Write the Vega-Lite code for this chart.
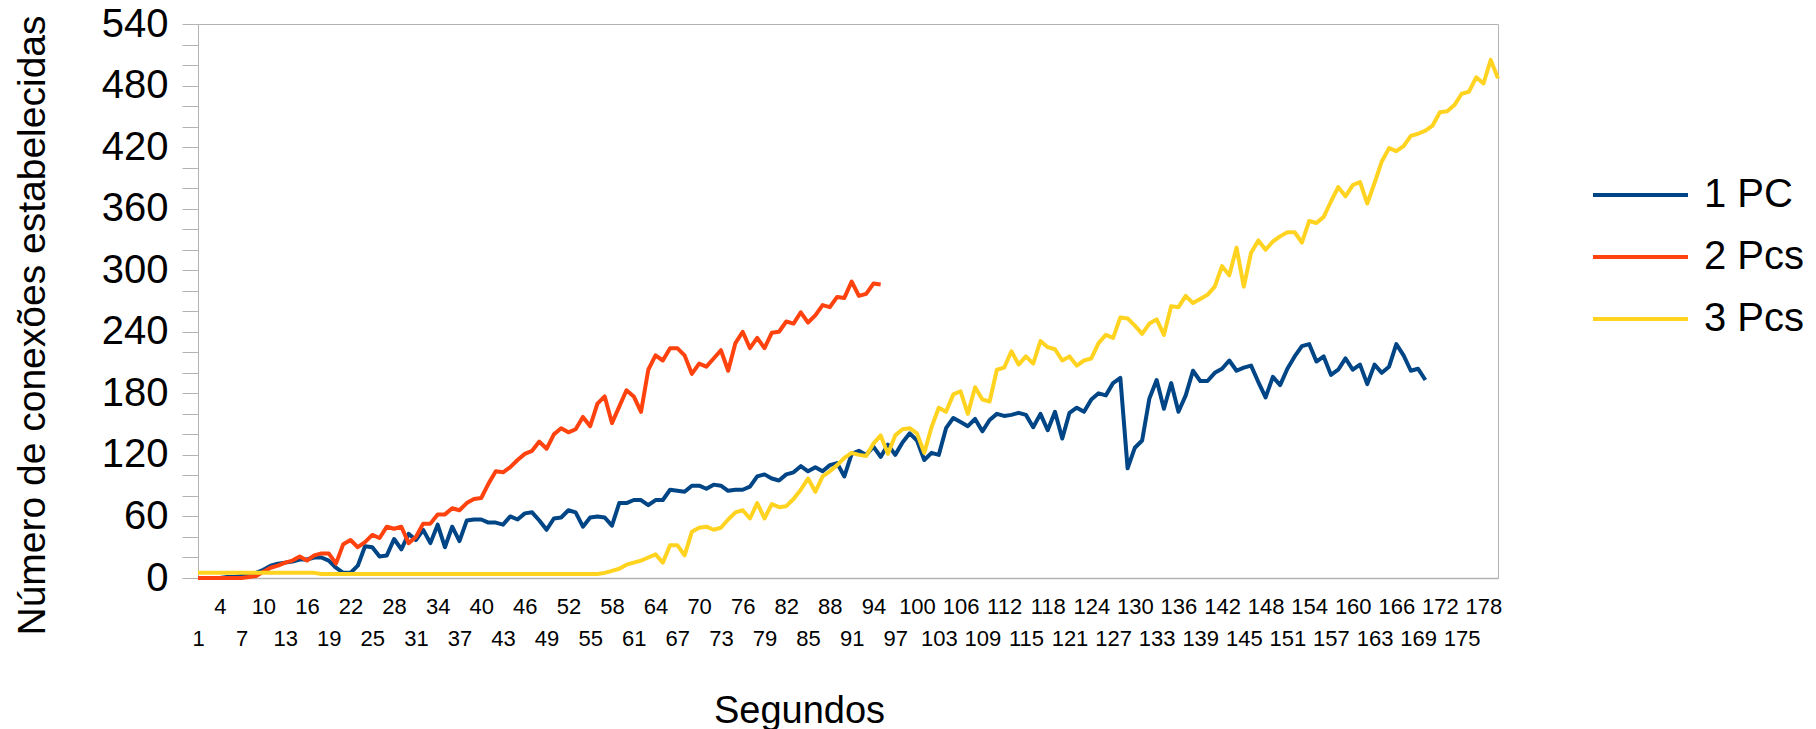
{
"$schema": "https://vega.github.io/schema/vega-lite/v6.json",
"width": 1300,
"height": 554,
"autosize": {"type": "none"},
"padding": {"left": 198, "top": 24, "right": 318, "bottom": 151},
"background": "white",
"config": {"view": {"stroke": "#b3b3b3", "strokeWidth": 1}},
"data": {"values": [
{"s":"1 PC","t":1,"v":0},{"s":"1 PC","t":2,"v":0},{"s":"1 PC","t":3,"v":0},{"s":"1 PC","t":4,"v":0},{"s":"1 PC","t":5,"v":1},{"s":"1 PC","t":6,"v":1},{"s":"1 PC","t":7,"v":2},{"s":"1 PC","t":8,"v":3},{"s":"1 PC","t":9,"v":5},{"s":"1 PC","t":10,"v":8},
{"s":"1 PC","t":11,"v":12},{"s":"1 PC","t":12,"v":14},{"s":"1 PC","t":13,"v":15},{"s":"1 PC","t":14,"v":16},{"s":"1 PC","t":15,"v":18},{"s":"1 PC","t":16,"v":18},{"s":"1 PC","t":17,"v":20},{"s":"1 PC","t":18,"v":20},{"s":"1 PC","t":19,"v":17},{"s":"1 PC","t":20,"v":10},
{"s":"1 PC","t":21,"v":5},{"s":"1 PC","t":22,"v":5},{"s":"1 PC","t":23,"v":12},{"s":"1 PC","t":24,"v":31},{"s":"1 PC","t":25,"v":30},{"s":"1 PC","t":26,"v":21},{"s":"1 PC","t":27,"v":22},{"s":"1 PC","t":28,"v":38},{"s":"1 PC","t":29,"v":28},{"s":"1 PC","t":30,"v":43},
{"s":"1 PC","t":31,"v":37},{"s":"1 PC","t":32,"v":47},{"s":"1 PC","t":33,"v":34},{"s":"1 PC","t":34,"v":52},{"s":"1 PC","t":35,"v":30},{"s":"1 PC","t":36,"v":50},{"s":"1 PC","t":37,"v":36},{"s":"1 PC","t":38,"v":56},{"s":"1 PC","t":39,"v":57},{"s":"1 PC","t":40,"v":57},
{"s":"1 PC","t":41,"v":54},{"s":"1 PC","t":42,"v":54},{"s":"1 PC","t":43,"v":52},{"s":"1 PC","t":44,"v":60},{"s":"1 PC","t":45,"v":57},{"s":"1 PC","t":46,"v":63},{"s":"1 PC","t":47,"v":64},{"s":"1 PC","t":48,"v":56},{"s":"1 PC","t":49,"v":47},{"s":"1 PC","t":50,"v":58},
{"s":"1 PC","t":51,"v":59},{"s":"1 PC","t":52,"v":66},{"s":"1 PC","t":53,"v":64},{"s":"1 PC","t":54,"v":50},{"s":"1 PC","t":55,"v":59},{"s":"1 PC","t":56,"v":60},{"s":"1 PC","t":57,"v":59},{"s":"1 PC","t":58,"v":51},{"s":"1 PC","t":59,"v":73},{"s":"1 PC","t":60,"v":73},
{"s":"1 PC","t":61,"v":76},{"s":"1 PC","t":62,"v":76},{"s":"1 PC","t":63,"v":71},{"s":"1 PC","t":64,"v":76},{"s":"1 PC","t":65,"v":76},{"s":"1 PC","t":66,"v":86},{"s":"1 PC","t":67,"v":85},{"s":"1 PC","t":68,"v":84},{"s":"1 PC","t":69,"v":90},{"s":"1 PC","t":70,"v":90},
{"s":"1 PC","t":71,"v":87},{"s":"1 PC","t":72,"v":91},{"s":"1 PC","t":73,"v":90},{"s":"1 PC","t":74,"v":85},{"s":"1 PC","t":75,"v":86},{"s":"1 PC","t":76,"v":86},{"s":"1 PC","t":77,"v":89},{"s":"1 PC","t":78,"v":99},{"s":"1 PC","t":79,"v":101},{"s":"1 PC","t":80,"v":97},
{"s":"1 PC","t":81,"v":95},{"s":"1 PC","t":82,"v":101},{"s":"1 PC","t":83,"v":103},{"s":"1 PC","t":84,"v":109},{"s":"1 PC","t":85,"v":104},{"s":"1 PC","t":86,"v":108},{"s":"1 PC","t":87,"v":104},{"s":"1 PC","t":88,"v":110},{"s":"1 PC","t":89,"v":112},{"s":"1 PC","t":90,"v":99},
{"s":"1 PC","t":91,"v":121},{"s":"1 PC","t":92,"v":124},{"s":"1 PC","t":93,"v":120},{"s":"1 PC","t":94,"v":128},{"s":"1 PC","t":95,"v":118},{"s":"1 PC","t":96,"v":130},{"s":"1 PC","t":97,"v":120},{"s":"1 PC","t":98,"v":132},{"s":"1 PC","t":99,"v":141},{"s":"1 PC","t":100,"v":134},
{"s":"1 PC","t":101,"v":115},{"s":"1 PC","t":102,"v":122},{"s":"1 PC","t":103,"v":120},{"s":"1 PC","t":104,"v":146},{"s":"1 PC","t":105,"v":156},{"s":"1 PC","t":106,"v":152},{"s":"1 PC","t":107,"v":148},{"s":"1 PC","t":108,"v":155},{"s":"1 PC","t":109,"v":143},{"s":"1 PC","t":110,"v":154},
{"s":"1 PC","t":111,"v":160},{"s":"1 PC","t":112,"v":158},{"s":"1 PC","t":113,"v":159},{"s":"1 PC","t":114,"v":161},{"s":"1 PC","t":115,"v":159},{"s":"1 PC","t":116,"v":147},{"s":"1 PC","t":117,"v":160},{"s":"1 PC","t":118,"v":144},{"s":"1 PC","t":119,"v":162},{"s":"1 PC","t":120,"v":136},
{"s":"1 PC","t":121,"v":161},{"s":"1 PC","t":122,"v":166},{"s":"1 PC","t":123,"v":162},{"s":"1 PC","t":124,"v":174},{"s":"1 PC","t":125,"v":180},{"s":"1 PC","t":126,"v":178},{"s":"1 PC","t":127,"v":190},{"s":"1 PC","t":128,"v":195},{"s":"1 PC","t":129,"v":107},{"s":"1 PC","t":130,"v":127},
{"s":"1 PC","t":131,"v":134},{"s":"1 PC","t":132,"v":175},{"s":"1 PC","t":133,"v":193},{"s":"1 PC","t":134,"v":165},{"s":"1 PC","t":135,"v":190},{"s":"1 PC","t":136,"v":162},{"s":"1 PC","t":137,"v":178},{"s":"1 PC","t":138,"v":202},{"s":"1 PC","t":139,"v":192},{"s":"1 PC","t":140,"v":192},
{"s":"1 PC","t":141,"v":200},{"s":"1 PC","t":142,"v":204},{"s":"1 PC","t":143,"v":212},{"s":"1 PC","t":144,"v":202},{"s":"1 PC","t":145,"v":205},{"s":"1 PC","t":146,"v":207},{"s":"1 PC","t":147,"v":191},{"s":"1 PC","t":148,"v":176},{"s":"1 PC","t":149,"v":196},{"s":"1 PC","t":150,"v":188},
{"s":"1 PC","t":151,"v":204},{"s":"1 PC","t":152,"v":216},{"s":"1 PC","t":153,"v":226},{"s":"1 PC","t":154,"v":228},{"s":"1 PC","t":155,"v":211},{"s":"1 PC","t":156,"v":216},{"s":"1 PC","t":157,"v":198},{"s":"1 PC","t":158,"v":203},{"s":"1 PC","t":159,"v":214},{"s":"1 PC","t":160,"v":203},
{"s":"1 PC","t":161,"v":208},{"s":"1 PC","t":162,"v":189},{"s":"1 PC","t":163,"v":208},{"s":"1 PC","t":164,"v":200},{"s":"1 PC","t":165,"v":206},{"s":"1 PC","t":166,"v":228},{"s":"1 PC","t":167,"v":217},{"s":"1 PC","t":168,"v":202},{"s":"1 PC","t":169,"v":204},{"s":"1 PC","t":170,"v":193},
{"s":"2 Pcs","t":1,"v":0},{"s":"2 Pcs","t":2,"v":0},{"s":"2 Pcs","t":3,"v":0},{"s":"2 Pcs","t":4,"v":0},{"s":"2 Pcs","t":5,"v":0},{"s":"2 Pcs","t":6,"v":0},{"s":"2 Pcs","t":7,"v":0},{"s":"2 Pcs","t":8,"v":1},{"s":"2 Pcs","t":9,"v":2},{"s":"2 Pcs","t":10,"v":6},
{"s":"2 Pcs","t":11,"v":10},{"s":"2 Pcs","t":12,"v":12},{"s":"2 Pcs","t":13,"v":15},{"s":"2 Pcs","t":14,"v":17},{"s":"2 Pcs","t":15,"v":21},{"s":"2 Pcs","t":16,"v":17},{"s":"2 Pcs","t":17,"v":22},{"s":"2 Pcs","t":18,"v":24},{"s":"2 Pcs","t":19,"v":24},{"s":"2 Pcs","t":20,"v":14},
{"s":"2 Pcs","t":21,"v":33},{"s":"2 Pcs","t":22,"v":37},{"s":"2 Pcs","t":23,"v":30},{"s":"2 Pcs","t":24,"v":35},{"s":"2 Pcs","t":25,"v":42},{"s":"2 Pcs","t":26,"v":39},{"s":"2 Pcs","t":27,"v":50},{"s":"2 Pcs","t":28,"v":48},{"s":"2 Pcs","t":29,"v":50},{"s":"2 Pcs","t":30,"v":34},
{"s":"2 Pcs","t":31,"v":40},{"s":"2 Pcs","t":32,"v":53},{"s":"2 Pcs","t":33,"v":53},{"s":"2 Pcs","t":34,"v":62},{"s":"2 Pcs","t":35,"v":62},{"s":"2 Pcs","t":36,"v":68},{"s":"2 Pcs","t":37,"v":66},{"s":"2 Pcs","t":38,"v":73},{"s":"2 Pcs","t":39,"v":77},{"s":"2 Pcs","t":40,"v":78},
{"s":"2 Pcs","t":41,"v":92},{"s":"2 Pcs","t":42,"v":104},{"s":"2 Pcs","t":43,"v":103},{"s":"2 Pcs","t":44,"v":108},{"s":"2 Pcs","t":45,"v":115},{"s":"2 Pcs","t":46,"v":121},{"s":"2 Pcs","t":47,"v":124},{"s":"2 Pcs","t":48,"v":133},{"s":"2 Pcs","t":49,"v":126},{"s":"2 Pcs","t":50,"v":140},
{"s":"2 Pcs","t":51,"v":146},{"s":"2 Pcs","t":52,"v":142},{"s":"2 Pcs","t":53,"v":145},{"s":"2 Pcs","t":54,"v":157},{"s":"2 Pcs","t":55,"v":148},{"s":"2 Pcs","t":56,"v":170},{"s":"2 Pcs","t":57,"v":177},{"s":"2 Pcs","t":58,"v":151},{"s":"2 Pcs","t":59,"v":167},{"s":"2 Pcs","t":60,"v":183},
{"s":"2 Pcs","t":61,"v":177},{"s":"2 Pcs","t":62,"v":162},{"s":"2 Pcs","t":63,"v":203},{"s":"2 Pcs","t":64,"v":217},{"s":"2 Pcs","t":65,"v":212},{"s":"2 Pcs","t":66,"v":224},{"s":"2 Pcs","t":67,"v":224},{"s":"2 Pcs","t":68,"v":217},{"s":"2 Pcs","t":69,"v":199},{"s":"2 Pcs","t":70,"v":209},
{"s":"2 Pcs","t":71,"v":206},{"s":"2 Pcs","t":72,"v":214},{"s":"2 Pcs","t":73,"v":222},{"s":"2 Pcs","t":74,"v":202},{"s":"2 Pcs","t":75,"v":229},{"s":"2 Pcs","t":76,"v":240},{"s":"2 Pcs","t":77,"v":224},{"s":"2 Pcs","t":78,"v":234},{"s":"2 Pcs","t":79,"v":224},{"s":"2 Pcs","t":80,"v":239},
{"s":"2 Pcs","t":81,"v":240},{"s":"2 Pcs","t":82,"v":250},{"s":"2 Pcs","t":83,"v":248},{"s":"2 Pcs","t":84,"v":259},{"s":"2 Pcs","t":85,"v":249},{"s":"2 Pcs","t":86,"v":256},{"s":"2 Pcs","t":87,"v":266},{"s":"2 Pcs","t":88,"v":264},{"s":"2 Pcs","t":89,"v":274},{"s":"2 Pcs","t":90,"v":273},
{"s":"2 Pcs","t":91,"v":289},{"s":"2 Pcs","t":92,"v":275},{"s":"2 Pcs","t":93,"v":277},{"s":"2 Pcs","t":94,"v":287},{"s":"2 Pcs","t":95,"v":286},
{"s":"3 Pcs","t":1,"v":5},{"s":"3 Pcs","t":2,"v":5},{"s":"3 Pcs","t":3,"v":5},{"s":"3 Pcs","t":4,"v":5},{"s":"3 Pcs","t":5,"v":5},{"s":"3 Pcs","t":6,"v":5},{"s":"3 Pcs","t":7,"v":5},{"s":"3 Pcs","t":8,"v":5},{"s":"3 Pcs","t":9,"v":5},{"s":"3 Pcs","t":10,"v":5},
{"s":"3 Pcs","t":11,"v":5},{"s":"3 Pcs","t":12,"v":5},{"s":"3 Pcs","t":13,"v":5},{"s":"3 Pcs","t":14,"v":5},{"s":"3 Pcs","t":15,"v":5},{"s":"3 Pcs","t":16,"v":5},{"s":"3 Pcs","t":17,"v":5},{"s":"3 Pcs","t":18,"v":4},{"s":"3 Pcs","t":19,"v":4},{"s":"3 Pcs","t":20,"v":4},
{"s":"3 Pcs","t":21,"v":4},{"s":"3 Pcs","t":22,"v":4},{"s":"3 Pcs","t":23,"v":4},{"s":"3 Pcs","t":24,"v":4},{"s":"3 Pcs","t":25,"v":4},{"s":"3 Pcs","t":26,"v":4},{"s":"3 Pcs","t":27,"v":4},{"s":"3 Pcs","t":28,"v":4},{"s":"3 Pcs","t":29,"v":4},{"s":"3 Pcs","t":30,"v":4},
{"s":"3 Pcs","t":31,"v":4},{"s":"3 Pcs","t":32,"v":4},{"s":"3 Pcs","t":33,"v":4},{"s":"3 Pcs","t":34,"v":4},{"s":"3 Pcs","t":35,"v":4},{"s":"3 Pcs","t":36,"v":4},{"s":"3 Pcs","t":37,"v":4},{"s":"3 Pcs","t":38,"v":4},{"s":"3 Pcs","t":39,"v":4},{"s":"3 Pcs","t":40,"v":4},
{"s":"3 Pcs","t":41,"v":4},{"s":"3 Pcs","t":42,"v":4},{"s":"3 Pcs","t":43,"v":4},{"s":"3 Pcs","t":44,"v":4},{"s":"3 Pcs","t":45,"v":4},{"s":"3 Pcs","t":46,"v":4},{"s":"3 Pcs","t":47,"v":4},{"s":"3 Pcs","t":48,"v":4},{"s":"3 Pcs","t":49,"v":4},{"s":"3 Pcs","t":50,"v":4},
{"s":"3 Pcs","t":51,"v":4},{"s":"3 Pcs","t":52,"v":4},{"s":"3 Pcs","t":53,"v":4},{"s":"3 Pcs","t":54,"v":4},{"s":"3 Pcs","t":55,"v":4},{"s":"3 Pcs","t":56,"v":4},{"s":"3 Pcs","t":57,"v":5},{"s":"3 Pcs","t":58,"v":7},{"s":"3 Pcs","t":59,"v":9},{"s":"3 Pcs","t":60,"v":13},
{"s":"3 Pcs","t":61,"v":15},{"s":"3 Pcs","t":62,"v":17},{"s":"3 Pcs","t":63,"v":20},{"s":"3 Pcs","t":64,"v":23},{"s":"3 Pcs","t":65,"v":15},{"s":"3 Pcs","t":66,"v":32},{"s":"3 Pcs","t":67,"v":32},{"s":"3 Pcs","t":68,"v":22},{"s":"3 Pcs","t":69,"v":45},{"s":"3 Pcs","t":70,"v":49},
{"s":"3 Pcs","t":71,"v":50},{"s":"3 Pcs","t":72,"v":47},{"s":"3 Pcs","t":73,"v":49},{"s":"3 Pcs","t":74,"v":57},{"s":"3 Pcs","t":75,"v":64},{"s":"3 Pcs","t":76,"v":66},{"s":"3 Pcs","t":77,"v":58},{"s":"3 Pcs","t":78,"v":73},{"s":"3 Pcs","t":79,"v":58},{"s":"3 Pcs","t":80,"v":72},
{"s":"3 Pcs","t":81,"v":69},{"s":"3 Pcs","t":82,"v":70},{"s":"3 Pcs","t":83,"v":77},{"s":"3 Pcs","t":84,"v":86},{"s":"3 Pcs","t":85,"v":97},{"s":"3 Pcs","t":86,"v":84},{"s":"3 Pcs","t":87,"v":99},{"s":"3 Pcs","t":88,"v":104},{"s":"3 Pcs","t":89,"v":110},{"s":"3 Pcs","t":90,"v":117},
{"s":"3 Pcs","t":91,"v":122},{"s":"3 Pcs","t":92,"v":120},{"s":"3 Pcs","t":93,"v":119},{"s":"3 Pcs","t":94,"v":131},{"s":"3 Pcs","t":95,"v":139},{"s":"3 Pcs","t":96,"v":121},{"s":"3 Pcs","t":97,"v":139},{"s":"3 Pcs","t":98,"v":145},{"s":"3 Pcs","t":99,"v":146},{"s":"3 Pcs","t":100,"v":141},
{"s":"3 Pcs","t":101,"v":122},{"s":"3 Pcs","t":102,"v":147},{"s":"3 Pcs","t":103,"v":166},{"s":"3 Pcs","t":104,"v":162},{"s":"3 Pcs","t":105,"v":179},{"s":"3 Pcs","t":106,"v":182},{"s":"3 Pcs","t":107,"v":160},{"s":"3 Pcs","t":108,"v":186},{"s":"3 Pcs","t":109,"v":174},{"s":"3 Pcs","t":110,"v":172},
{"s":"3 Pcs","t":111,"v":203},{"s":"3 Pcs","t":112,"v":205},{"s":"3 Pcs","t":113,"v":221},{"s":"3 Pcs","t":114,"v":208},{"s":"3 Pcs","t":115,"v":216},{"s":"3 Pcs","t":116,"v":209},{"s":"3 Pcs","t":117,"v":231},{"s":"3 Pcs","t":118,"v":225},{"s":"3 Pcs","t":119,"v":223},{"s":"3 Pcs","t":120,"v":212},
{"s":"3 Pcs","t":121,"v":216},{"s":"3 Pcs","t":122,"v":207},{"s":"3 Pcs","t":123,"v":212},{"s":"3 Pcs","t":124,"v":214},{"s":"3 Pcs","t":125,"v":229},{"s":"3 Pcs","t":126,"v":237},{"s":"3 Pcs","t":127,"v":234},{"s":"3 Pcs","t":128,"v":254},{"s":"3 Pcs","t":129,"v":253},{"s":"3 Pcs","t":130,"v":246},
{"s":"3 Pcs","t":131,"v":238},{"s":"3 Pcs","t":132,"v":248},{"s":"3 Pcs","t":133,"v":252},{"s":"3 Pcs","t":134,"v":237},{"s":"3 Pcs","t":135,"v":265},{"s":"3 Pcs","t":136,"v":264},{"s":"3 Pcs","t":137,"v":275},{"s":"3 Pcs","t":138,"v":268},{"s":"3 Pcs","t":139,"v":272},{"s":"3 Pcs","t":140,"v":276},
{"s":"3 Pcs","t":141,"v":284},{"s":"3 Pcs","t":142,"v":304},{"s":"3 Pcs","t":143,"v":295},{"s":"3 Pcs","t":144,"v":322},{"s":"3 Pcs","t":145,"v":284},{"s":"3 Pcs","t":146,"v":317},{"s":"3 Pcs","t":147,"v":329},{"s":"3 Pcs","t":148,"v":320},{"s":"3 Pcs","t":149,"v":328},{"s":"3 Pcs","t":150,"v":333},
{"s":"3 Pcs","t":151,"v":337},{"s":"3 Pcs","t":152,"v":337},{"s":"3 Pcs","t":153,"v":327},{"s":"3 Pcs","t":154,"v":348},{"s":"3 Pcs","t":155,"v":346},{"s":"3 Pcs","t":156,"v":352},{"s":"3 Pcs","t":157,"v":367},{"s":"3 Pcs","t":158,"v":381},{"s":"3 Pcs","t":159,"v":372},{"s":"3 Pcs","t":160,"v":383},
{"s":"3 Pcs","t":161,"v":386},{"s":"3 Pcs","t":162,"v":365},{"s":"3 Pcs","t":163,"v":385},{"s":"3 Pcs","t":164,"v":406},{"s":"3 Pcs","t":165,"v":419},{"s":"3 Pcs","t":166,"v":416},{"s":"3 Pcs","t":167,"v":421},{"s":"3 Pcs","t":168,"v":431},{"s":"3 Pcs","t":169,"v":433},{"s":"3 Pcs","t":170,"v":436},
{"s":"3 Pcs","t":171,"v":441},{"s":"3 Pcs","t":172,"v":454},{"s":"3 Pcs","t":173,"v":455},{"s":"3 Pcs","t":174,"v":461},{"s":"3 Pcs","t":175,"v":472},{"s":"3 Pcs","t":176,"v":474},{"s":"3 Pcs","t":177,"v":488},{"s":"3 Pcs","t":178,"v":482},{"s":"3 Pcs","t":179,"v":505},{"s":"3 Pcs","t":180,"v":487}
]},
"mark": {"type": "line", "strokeWidth": 4, "strokeJoin": "round"},
"encoding": {
"x": {"field": "t", "type": "quantitative",
 "scale": {"domain": [1, 180], "nice": false, "zero": false},
 "axis": {"values": [1,4,7,10,13,16,19,22,25,28,31,34,37,40,43,46,49,52,55,58,61,64,67,70,73,76,79,82,85,88,91,94,97,100,103,106,109,112,115,118,121,124,127,130,133,136,139,142,145,148,151,154,157,160,163,166,169,172,175,178],
  "title": "Segundos", "grid": false, "ticks": false, "tickSize": 0,
  "domainColor": "#b3b3b3", "domainWidth": 1.5,
  "labelFont": "Liberation Sans", "labelFontSize": 22, "labelColor": "#000000",
  "labelBaseline": "alphabetic", "labelAlign": "center",
  "labelPadding": {"condition": {"test": "datum.value % 6 === 1", "value": 67}, "value": 35},
  "labelOverlap": false, "labelFlush": false, "labelBound": false,
  "titleFont": "Liberation Sans", "titleFontSize": 38, "titleFontWeight": "normal", "titleColor": "#000000",
  "titleX": 601, "titleY": 144, "titleBaseline": "alphabetic", "titleAlign": "center"}},
"y": {"field": "v", "type": "quantitative",
 "scale": {"domain": [0, 540], "nice": false},
 "axis": {"values": [0,20,40,60,80,100,120,140,160,180,200,220,240,260,280,300,320,340,360,380,400,420,440,460,480,500,520,540],
  "labelExpr": "datum.value % 60 === 0 ? datum.label : ''",
  "title": "Número de conexões estabelecidas", "grid": false,
  "tickSize": 16, "tickColor": "#b3b3b3", "domainColor": "#b3b3b3",
  "labelFont": "Liberation Sans", "labelFontSize": 40, "labelColor": "#000000", "labelPadding": 14,
  "labelBaseline": "middle", "labelOverlap": false, "labelFlush": false, "labelBound": false,
  "titleFont": "Liberation Sans", "titleFontSize": 39, "titleFontWeight": "normal", "titleColor": "#000000",
  "titleX": -154, "titleY": 301, "titleAngle": 270, "titleAlign": "center", "titleBaseline": "alphabetic"}},
"color": {"field": "s", "type": "nominal",
 "scale": {"domain": ["1 PC", "2 Pcs", "3 Pcs"], "range": ["#004586", "#ff420e", "#ffd320"]},
 "legend": {"title": null, "orient": "none", "legendX": 1393, "legendY": 141, "padding": 0,
  "symbolType": "stroke", "symbolSize": 9025, "symbolStrokeWidth": 4,
  "labelFont": "Liberation Sans", "labelFontSize": 40, "labelColor": "#000000", "labelOffset": 14, "labelLimit": 300,
  "clipHeight": 60, "rowPadding": 2}}
}
}
